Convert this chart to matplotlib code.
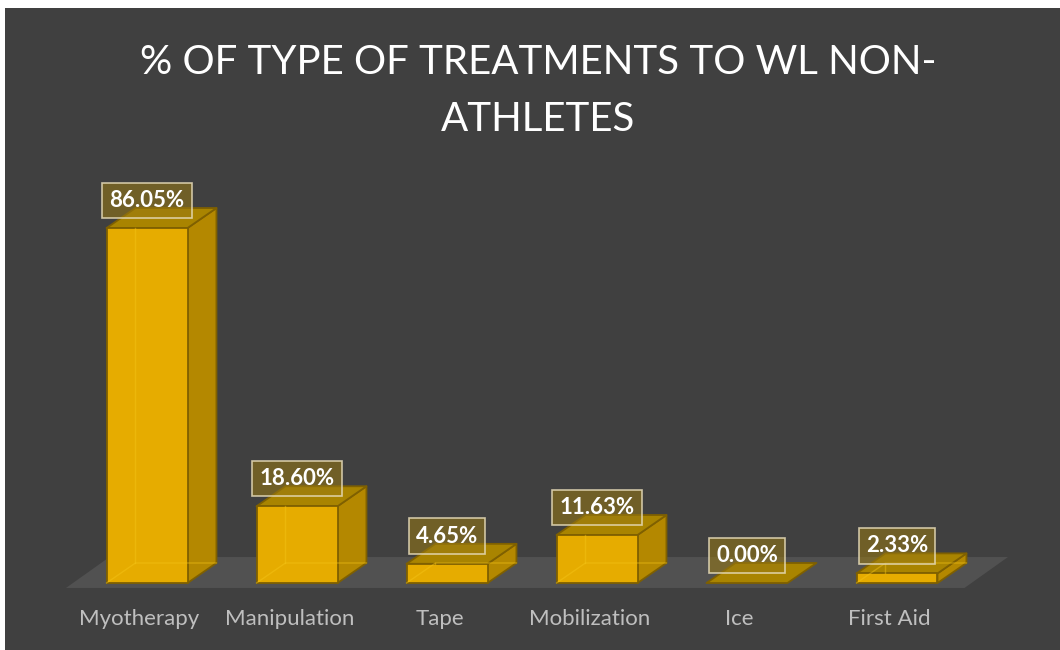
import matplotlib.pyplot as plt
from matplotlib.patches import Polygon, Rectangle

# chart data
categories = ['Myotherapy', 'Manipulation', 'Tape', 'Mobilization', 'Ice', 'First Aid']
values = [86.05, 18.60, 4.65, 11.63, 0.00, 2.33]
labels = ['86.05%', '18.60%', '4.65%', '11.63%', '0.00%', '2.33%']
title_lines = ['% OF TYPE OF TREATMENTS TO WL NON-', 'ATHLETES']

BG = '#404040'
FRONT = '#E6AC00'
SIDE = '#B48800'
TOP = '#A98400'
EDGE = '#7F6000'
FLOOR = '#515151'

# 3d look (data units: x = category, y = percent)
half_w = 0.27
dx, dy = 0.193, 4.85

fig = plt.figure(figsize=(10.6, 6.5), dpi=100, facecolor='white')
fig.patches.append(Rectangle((5 / 1060, 0), 1, 642 / 650, transform=fig.transFigure,
                             facecolor=BG, edgecolor='none', zorder=-5))
ax = fig.add_axes([0, 0, 1, 1])
ax.set_facecolor('none')
px_x, px_y = 150.0, 4.125
ax.set_xlim(-147 / px_x, (1060 - 147) / px_x)
ax.set_ylim(-(650 - 583) / px_y, 583 / px_y)
ax.axis('off')

# floor
n = len(categories)
fy0, fy1 = -1.2, 6.3
fx0, fx1 = -0.54, n - 1 + 0.45
fdx = 0.29
ax.add_patch(Polygon([(fx0, fy0), (fx1, fy0), (fx1 + fdx, fy1), (fx0 + fdx, fy1)],
                     closed=True, facecolor=FLOOR, edgecolor='none', zorder=1))

for i, v in enumerate(values):
    x0, x1 = i - half_w, i + half_w
    lw = 1.3
    if v > 0:
        # side face
        ax.add_patch(Polygon([(x1, 0), (x1 + dx, dy), (x1 + dx, v + dy), (x1, v)],
                             closed=True, facecolor=SIDE, edgecolor=EDGE, lw=lw,
                             joinstyle='round', zorder=2))
    # top face
    ax.add_patch(Polygon([(x0, v), (x1, v), (x1 + dx, v + dy), (x0 + dx, v + dy)],
                         closed=True, facecolor=TOP, edgecolor=EDGE, lw=lw,
                         joinstyle='round', zorder=3))
    if v > 0:
        # front face
        ax.add_patch(Polygon([(x0, 0), (x1, 0), (x1, v), (x0, v)],
                             closed=True, facecolor=FRONT, edgecolor=EDGE, lw=lw,
                             joinstyle='round', zorder=4))
        # hidden back edges seen through the bar
        ax.plot([x0, x0 + dx, x1 + dx], [0, dy, dy], color='#F5C518', lw=1, alpha=0.45, zorder=5)
        ax.plot([x0 + dx, x0 + dx], [dy, v], color='#F5C518', lw=1, alpha=0.45, zorder=5)

    # data label
    ax.text(i, v + 6.7, labels[i], ha='center', va='center', color='white',
            fontsize=16, fontweight='bold', family=['Lato', 'DejaVu Sans'], zorder=7,
            bbox=dict(boxstyle='square,pad=0.33', facecolor=(0.6, 0.48, 0.08, 0.55),
                      edgecolor=(0.9, 0.86, 0.72, 0.85), lw=1.2))

    # category label
    ax.text(i - 0.05, -10.2, categories[i], ha='center', va='baseline', color='#BFBFBF',
            fontsize=16, family=['Lato', 'DejaVu Sans'], zorder=6)

# title
fig.text(0.508, 1 - 74 / 650, title_lines[0], ha='center', va='baseline', color='white',
         fontsize=29, family=['Lato', 'DejaVu Sans'])
fig.text(0.508, 1 - 131 / 650, title_lines[1], ha='center', va='baseline', color='white',
         fontsize=29, family=['Lato', 'DejaVu Sans'])

fig.savefig('out.png', dpi=100, facecolor=fig.get_facecolor())
